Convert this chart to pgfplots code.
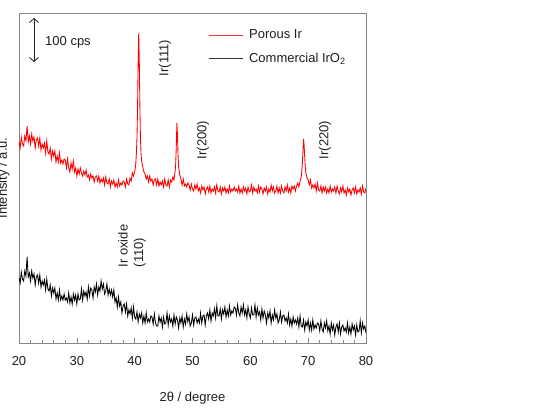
\documentclass[border=0pt]{standalone}
\usepackage{fontspec}
\setmainfont{Liberation Sans}
\usepackage{pgfplots}
\pgfplotsset{compat=1.18}
\usetikzlibrary{arrows.meta}

\definecolor{axisgray}{RGB}{134,134,134}
\definecolor{txt}{RGB}{30,30,30}

\begin{document}
\begin{tikzpicture}[font=\fontsize{13}{15.6}\selectfont]
% fixed canvas, same proportions as the figure panel
\useasboundingbox (0,0) rectangle (547pt,414pt);
\begin{axis}[
  at={(19pt,71pt)}, anchor=south west,
  scale only axis, width=347pt, height=330pt,
  xmin=20, xmax=80, ymin=0, ymax=330,
  xtick={20,30,...,80}, minor x tick num=4,
  ytick=\empty,
  xtick pos=left, tick align=inside,
  major tick length=5pt, minor tick length=3pt,
  axis line style={draw=axisgray, line width=0.8pt},
  every tick/.style={axisgray, line width=0.6pt},
  /pgf/number format/assume math mode=true,
  tick label style={font=\fontsize{13}{15.6}\selectfont, text=txt},
  xticklabel style={yshift=-10pt},
  xlabel={2θ / degree},
  xlabel style={at={(axis description cs:0.5,-0.1667)}, anchor=center, text=txt},
  ylabel={Intensity / a.u.},
  ylabel style={at={(axis description cs:-0.0444,0.5)}, anchor=center, text=txt},
  legend style={at={(axis description cs:0.5447,0.897)}, anchor=west,
    draw=none, fill=none, inner sep=0pt, row sep=13pt, column sep=6pt,
    font=\fontsize{13}{15.6}\selectfont, text=txt,
    nodes={inner sep=0pt}},
  legend cell align=left,
  legend image code/.code={\draw[#1, line width=0.9pt, opacity=0.8] (0pt,0pt) -- (34pt,0pt);},
]
% Porous Ir
\addplot[red, line width=0.85pt] coordinates {
(20.0,201)(20.2,195)(20.4,206)(20.6,199)(20.8,197)(21.0,207)(21.2,202)(21.4,217)(21.6,201)(21.8,207)(22.0,199)(22.2,209)(22.4,202)(22.6,206)(22.8,195)(23.0,203)(23.2,205)(23.4,197)(23.6,205)(23.8,193)(24.0,199)(24.2,195)(24.4,200)(24.6,190)(24.8,202)(25.0,191)(25.2,189)(25.4,195)(25.6,184)(25.8,192)(26.0,187)(26.2,192)(26.4,181)(26.6,187)(26.8,181)(27.0,190)(27.2,180)(27.4,183)(27.6,179)(27.8,184)(28.0,183)(28.2,175)(28.4,184)(28.6,175)(28.8,171)(29.0,180)(29.2,174)(29.4,182)(29.6,171)(29.8,175)(30.0,167)
(30.2,174)(30.4,169)(30.6,175)(30.8,170)(31.0,167)(31.2,172)(31.4,168)(31.6,173)(31.8,166)(32.0,168)(32.2,163)(32.4,169)(32.6,165)(32.8,167)(33.0,161)(33.2,166)(33.4,167)(33.6,162)(33.8,167)(34.0,160)(34.2,164)(34.4,161)(34.6,165)(34.8,158)(35.0,166)(35.2,160)(35.4,159)(35.6,164)(35.8,156)(36.0,162)(36.2,159)(36.4,163)(36.6,156)(36.8,160)(37.0,156)(37.2,163)(37.4,157)(37.6,160)(37.8,158)(38.0,162)(38.2,161)(38.4,156)(38.6,164)(38.8,159)(39.0,158)(39.2,165)(39.4,162)(39.6,170)(39.8,167)
(40.0,171)(40.1,175)(40.2,180)(40.3,190)(40.4,205)(40.5,235)(40.6,280)(40.7,310)(40.8,282)(40.9,238)(41.0,205)(41.1,190)(41.2,182)(41.4,176)(41.6,171)(41.8,169)(42.0,164)(42.2,167)(42.4,161)(42.6,167)(42.8,162)(43.0,164)(43.2,158)(43.4,163)(43.6,164)(43.8,158)(44.0,164)(44.2,157)(44.4,161)(44.6,158)(44.8,162)(45.0,156)(45.2,164)(45.4,158)(45.6,157)(45.8,163)(46.0,156)(46.2,163)(46.4,161)(46.6,166)(46.8,163)
(47.0,172)(47.1,180)(47.2,197)(47.3,220)(47.4,208)(47.5,188)(47.6,176)(47.8,168)(48.0,164)(48.2,158)(48.4,164)(48.6,157)(48.8,159)(49.0,156)(49.2,160)(49.4,158)(49.6,153)(49.8,159)(50.0,154)
(50.2,152)(50.4,158)(50.6,154)(50.8,159)(51.0,152)(51.2,155)(51.4,150)(51.6,157)(51.8,153)(52.0,156)(52.2,149)(52.4,154)(52.6,156)(52.8,151)(53.0,157)(53.2,150)(53.4,154)(53.6,152)(53.8,156)(54.0,150)(54.2,158)(54.4,152)(54.6,151)(54.8,156)(55.0,149)(55.2,155)(55.4,152)(55.6,156)(55.8,150)(56.0,154)(56.2,150)(56.4,157)(56.6,151)(56.8,154)(57.0,152)(57.2,156)(57.4,152)(57.6,154)(57.8,151)(58.0,157)(58.2,150)(58.4,154)(58.6,150)(58.8,156)(59.0,152)(59.2,155)(59.4,149)(59.6,156)(59.8,151)
(60.0,152)(60.2,158)(60.4,150)(60.6,156)(60.8,152)(61.0,154)(61.2,150)(61.4,157)(61.6,151)(61.8,156)(62.0,154)(62.2,149)(62.4,155)(62.6,152)(62.8,156)(63.0,149)(63.2,154)(63.4,151)(63.6,158)(63.8,152)(64.0,156)(64.2,150)(64.4,152)(64.6,157)(64.8,150)(65.0,155)(65.2,150)(65.4,157)(65.6,152)(65.8,150)(66.0,156)(66.2,152)(66.4,158)(66.6,151)(66.8,155)(67.0,150)(67.2,157)(67.4,154)(67.6,157)(67.8,152)(68.0,157)(68.2,160)(68.4,156)(68.6,162)(68.8,166)
(68.9,172)(69.0,180)(69.1,192)(69.2,204)(69.3,198)(69.4,186)(69.5,176)(69.6,170)(69.8,165)(70.0,163)(70.2,158)(70.4,163)(70.6,155)(70.8,158)(71.0,155)(71.2,159)(71.4,152)(71.6,160)(71.8,153)(72.0,152)(72.2,157)(72.4,150)(72.6,156)(72.8,152)(73.0,156)(73.2,150)(73.4,154)(73.6,150)(73.8,157)(74.0,151)(74.2,154)(74.4,152)(74.6,156)(74.8,150)(75.0,157)(75.2,152)(75.4,149)(75.6,155)(75.8,151)(76.0,157)(76.2,150)(76.4,153)(76.6,148)(76.8,155)(77.0,151)(77.2,154)(77.4,148)(77.6,153)(77.8,155)(78.0,150)(78.2,156)(78.4,149)(78.6,153)(78.8,151)(79.0,155)(79.2,149)(79.4,157)(79.6,151)(79.8,150)(80.0,155)
};
\addlegendentry{Porous Ir}
% Commercial IrO2
\addplot[black, line width=0.85pt] coordinates {
(20.0,65)(20.2,60)(20.4,71)(20.6,64)(20.8,62)(21.0,72)(21.2,67)(21.4,86)(21.6,66)(21.8,70)(22.0,62)(22.2,72)(22.4,65)(22.6,69)(22.8,58)(23.0,66)(23.2,68)(23.4,60)(23.6,68)(23.8,56)(24.0,62)(24.2,58)(24.4,63)(24.6,53)(24.8,64)(25.0,54)(25.2,52)(25.4,58)(25.6,47)(25.8,55)(26.0,50)(26.2,55)(26.4,44)(26.6,50)(26.8,43)(27.0,53)(27.2,43)(27.4,47)(27.6,43)(27.8,49)
(28.0,43)(28.2,45)(28.4,41)(28.6,50)(28.8,40)(29.0,46)(29.2,39)(29.4,49)(29.6,43)(29.8,48)(30.0,39)(30.2,49)(30.4,43)(30.6,44)(30.8,54)(31.0,43)(31.2,52)(31.4,47)(31.6,51)(31.8,44)(32.0,56)(32.2,47)(32.4,55)(32.6,53)(32.8,45)(33.0,56)(33.2,51)(33.4,59)(33.6,48)(33.8,56)(34.0,52)(34.2,62)(34.4,54)(34.6,59)(34.8,49)(35.0,52)(35.2,59)(35.4,48)(35.6,54)(35.8,48)
(36.0,53)(36.2,46)(36.4,53)(36.6,41)(36.8,45)(37.0,36)(37.2,46)(37.4,37)(37.6,41)(37.8,30)(38.0,37)(38.2,39)(38.4,31)(38.6,39)(38.8,27)(39.0,33)(39.2,29)(39.4,35)(39.6,25)(39.8,36)(40.0,26)(40.2,24)(40.4,31)(40.6,21)(40.8,29)(41.0,25)(41.2,30)(41.4,20)(41.6,27)(41.8,20)(42.0,30)(42.2,21)(42.4,24)(42.6,21)(42.8,27)(43.0,26)(43.2,19)(43.4,29)(43.6,20)(43.8,17)
(44.0,17)(44.2,27)(44.4,21)(44.6,25)(44.8,16)(45.0,26)(45.2,19)(45.4,20)(45.6,30)(45.8,18)(46.0,27)(46.2,21)(46.4,24)(46.6,17)(46.8,28)(47.0,19)(47.2,26)(47.4,23)(47.6,15)(47.8,25)(48.0,20)(48.2,27)(48.4,16)(48.6,24)(48.8,19)(49.0,29)(49.2,21)(49.4,26)(49.6,17)(49.8,20)(50.0,28)(50.2,18)(50.4,25)(50.6,26)(50.8,20)(51.0,24)(51.2,20)(51.4,30)(51.6,20)(51.8,27)
(52.0,28)(52.2,18)(52.4,27)(52.6,30)(52.8,24)(53.0,33)(53.2,22)(53.4,30)(53.6,27)(53.8,34)(54.0,25)(54.2,37)(54.4,27)(54.6,27)(54.8,34)(55.0,24)(55.2,33)(55.4,29)(55.6,36)(55.8,26)(56.0,33)(56.2,27)(56.4,37)(56.6,28)(56.8,32)(57.0,30)(57.2,36)(57.4,35)(57.6,28)(57.8,38)(58.0,30)(58.2,27)(58.4,36)(58.6,30)(58.8,38)(59.0,28)(59.2,33)(59.4,25)(59.6,36)(59.8,29)
(60.0,25)(60.2,35)(60.4,28)(60.6,28)(60.8,38)(61.0,26)(61.2,35)(61.4,28)(61.6,31)(61.8,23)(62.0,34)(62.2,25)(62.4,32)(62.6,28)(62.8,20)(63.0,30)(63.2,25)(63.4,32)(63.6,20)(63.8,28)(64.0,23)(64.2,33)(64.4,25)(64.6,29)(64.8,20)(65.0,23)(65.2,31)(65.4,21)(65.6,27)(65.8,28)(66.0,22)(66.2,25)(66.4,20)(66.6,29)(66.8,18)(67.0,24)(67.2,17)(67.4,26)(67.6,20)(67.8,23)
(68.0,19)(68.2,25)(68.4,16)(68.6,27)(68.8,17)(69.0,16)(69.2,23)(69.4,13)(69.6,21)(69.8,17)(70.0,23)(70.2,13)(70.4,20)(70.6,13)(70.8,23)(71.0,14)(71.2,18)(71.4,15)(71.6,20)(71.8,19)(72.0,12)(72.2,22)(72.4,14)(72.6,11)(72.8,20)(73.0,15)(73.2,22)(73.4,12)(73.6,17)(73.8,9)(74.0,20)(74.2,13)(74.4,18)(74.6,8)(74.8,16)(75.0,19)(75.2,11)(75.4,20)(75.6,9)(75.8,16)
(76.0,18)(76.2,12)(76.4,15)(76.6,11)(76.8,20)(77.0,10)(77.2,16)(77.4,9)(77.6,19)(77.8,13)(78.0,17)(78.2,8)(78.4,18)(78.6,11)(78.8,12)(79.0,22)(79.2,10)(79.4,20)(79.6,14)(79.8,17)(80.0,10)
};
\addlegendentry{Commercial IrO\textsubscript{2}}

% reflection labels
\node[rotate=90, text=txt, inner sep=0pt] at (axis cs:45.25,285) {Ir(111)};
\node[rotate=90, text=txt, inner sep=0pt] at (axis cs:51.82,203) {Ir(200)};
\node[rotate=90, text=txt, inner sep=0pt] at (axis cs:72.91,203) {Ir(220)};
\node[rotate=90, text=txt, inner sep=0pt, align=left] at (axis cs:39.54,97) {Ir oxide\\(110)};

% intensity scale bar
\draw[{Straight Barb[length=4pt,width=9pt]}-{Straight Barb[length=4pt,width=9pt]}, line width=0.8pt, txt]
  (axis cs:22.59,325) -- (axis cs:22.59,281);
\node[anchor=west, inner sep=0pt, text=txt] at (axis cs:24.5,301) {100 cps};
\end{axis}
\end{tikzpicture}
\end{document}
